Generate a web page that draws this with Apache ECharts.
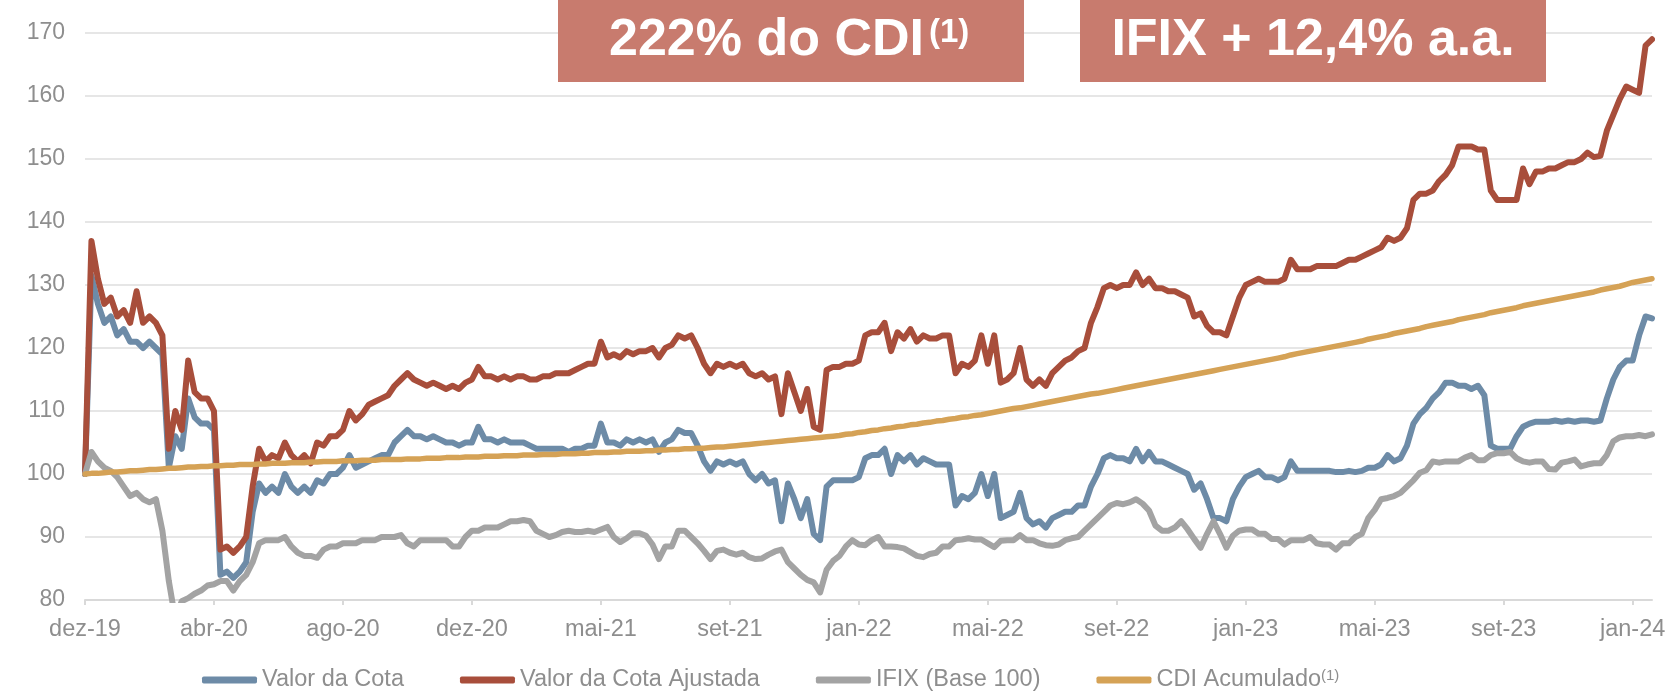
<!DOCTYPE html>
<html>
<head>
<meta charset="utf-8">
<script src="https://cdn.jsdelivr.net/npm/echarts@6/dist/echarts.min.js"></script>
<style>
    html, body { margin: 0; padding: 0; background: #fff; }
    #chart { width: 1669px; height: 691px; }
</style>
</head>
<body>
<div id="chart"></div>
<script>
// one label every POINTS_PER_TICK points (roughly weekly points)
const tickLabels = ['dez-19', 'abr-20', 'ago-20', 'dez-20', 'mai-21', 'set-21', 'jan-22',
    'mai-22', 'set-22', 'jan-23', 'mai-23', 'set-23', 'jan-24'];
const POINTS_PER_TICK = 20;

const valorCota = [
    100, 131.5, 127, 124, 125, 122, 123, 121, 121, 120, 121, 120, 119, 101, 106, 104, 112, 109, 108, 108, 107,
    84, 84.5, 83.5, 84.5, 86, 94, 98.5, 97, 98, 97, 100, 98, 97, 98, 97, 99, 98.5, 100, 100, 101,
    103, 101, 101.5, 102, 102.5, 103, 103, 105, 106, 107, 106, 106, 105.5, 106, 105.5, 105, 105, 104.5, 105, 105,
    107.5, 105.5, 105.5, 105, 105.5, 105, 105, 105, 104.5, 104, 104, 104, 104, 104, 103.5, 104, 104, 104.5, 104.5, 108,
    105, 105, 104.5, 105.5, 105, 105.5, 105, 105.5, 103.5, 105, 105.5, 107, 106.5, 106.5, 104.5, 102, 100.5, 102, 101.5, 102,
    101.5, 102, 100, 99, 100, 98.5, 99, 92.5, 98.5, 96, 93, 96, 90.5, 89.5, 98, 99, 99, 99, 99, 99.5,
    102.5, 103, 103, 104, 100, 103, 102, 103, 101.5, 102.5, 102, 101.5, 101.5, 101.5, 95, 96.5, 96, 97, 100, 96.5,
    100, 93, 93.5, 94, 97, 93, 92, 92.5, 91.5, 93, 93.5, 94, 94, 95, 95, 98, 100, 102.5, 103, 102.5,
    102.5, 102, 104, 102, 103.5, 102, 102, 101.5, 101, 100.5, 100, 97.5, 98.5, 96, 93, 93, 92.5, 96, 98, 99.5,
    100, 100.5, 99.5, 99.5, 99, 99.5, 102, 100.5, 100.5, 100.5, 100.5, 100.5, 100.5, 100.3, 100.3, 100.5, 100.3, 100.5, 101, 101,
    101.5, 103, 102, 102.5, 104.5, 108, 109.5, 110.5, 112, 113, 114.5, 114.5, 114, 114, 113.5, 114, 112.5, 104.5, 104, 104,
    104, 106, 107.5, 108, 108.3, 108.3, 108.3, 108.5, 108.3, 108.5, 108.3, 108.5, 108.5, 108.3, 108.5, 112, 115, 117, 118, 118, 122, 125, 124.7
];

const valorCotaAjustada = [
    100, 137, 131, 127, 128, 125, 126, 124, 129, 124, 125, 124, 122, 104, 110, 107, 118, 113, 112, 112, 110,
    88, 88.5, 87.5, 88.5, 90, 98, 104, 102, 103, 102.5, 105, 103, 102, 103, 101.7, 105, 104.5, 106, 106, 107,
    110, 108.5, 109.5, 111, 111.5, 112, 112.5, 114, 115, 116, 115, 114.5, 114, 114.5, 114, 113.5, 114, 113.5, 114.5, 115,
    117, 115.5, 115.5, 115, 115.5, 115, 115.5, 115.5, 115, 115, 115.5, 115.5, 116, 116, 116, 116.5, 117, 117.5, 117.5, 121,
    118.5, 119, 118.5, 119.5, 119, 119.5, 119.5, 120, 118.5, 120, 120.5, 122, 121.5, 122, 120, 117.5, 116, 117.5, 117, 117.5,
    117, 117.5, 116, 115.5, 116, 115, 115.5, 109.5, 116, 113, 110, 113.5, 107.5, 107, 116.5, 117, 117, 117.5, 117.5, 118,
    122, 122.5, 122.5, 124, 119.5, 122.5, 121.5, 123, 121, 122, 121.5, 121.5, 122, 122, 116, 117.5, 117, 118, 122, 117.5,
    122, 114.5, 115, 116, 120, 115, 114, 115, 114, 116, 117, 118, 118.5, 119.5, 120, 124, 126.5, 129.5, 130, 129.5,
    130, 130, 132, 130, 131, 129.5, 129.5, 129, 129, 128.5, 128, 125, 125.5, 123.5, 122.5, 122.5, 122, 125, 128, 130,
    130.5, 131, 130.5, 130.5, 130.5, 131, 134, 132.5, 132.5, 132.5, 133, 133, 133, 133, 133.5, 134, 134, 134.5, 135, 135.5,
    136, 137.5, 137, 137.5, 139, 143.5, 144.5, 144.5, 145, 146.5, 147.5, 149, 152, 152, 152, 151.5, 151.5, 145, 143.5, 143.5,
    143.5, 143.5, 148.5, 146, 148, 148, 148.5, 148.5, 149, 149.5, 149.5, 150, 151, 150.3, 150.5, 154.5, 157, 159.5, 161.5, 161, 160.5, 168, 169
];

const ifixBase100 = [
    100, 103.5, 102, 101, 100.5, 99.5, 98, 96.5, 97, 96, 95.5, 96, 91, 83, 77, 79.8, 80.3, 81, 81.5, 82.3, 82.5,
    83, 83, 81.5, 83, 84, 86, 89, 89.5, 89.5, 89.5, 90, 88.5, 87.5, 87, 87, 86.7, 88, 88.5, 88.5, 89,
    89, 89, 89.5, 89.5, 89.5, 90, 90, 90, 90.3, 89, 88.5, 89.5, 89.5, 89.5, 89.5, 89.5, 88.5, 88.5, 90, 91,
    91, 91.5, 91.5, 91.5, 92, 92.5, 92.5, 92.7, 92.5, 91, 90.5, 90, 90.3, 90.8, 91, 90.8, 90.8, 91, 90.8, 91.2,
    91.6, 90, 89.2, 89.8, 90.6, 90.6, 90.2, 88.8, 86.5, 88.5, 88.5, 91, 91, 90, 89, 87.8, 86.5, 87.8, 88, 87.5,
    87.2, 87.5, 86.8, 86.5, 86.6, 87.2, 87.7, 88, 86, 85, 84, 83.2, 82.8, 81.2, 84.8, 86.2, 87, 88.5, 89.5, 88.8,
    88.7, 89.5, 90, 88.5, 88.5, 88.4, 88.2, 87.6, 87, 86.8, 87.3, 87.5, 88.5, 88.5, 89.5, 89.6, 89.8, 89.6, 89.6, 89,
    88.4, 89.4, 89.5, 89.5, 90.3, 89.5, 89.5, 89, 88.7, 88.6, 88.8, 89.5, 89.8, 90, 91, 92, 93, 94, 95, 95.4,
    95.2, 95.5, 96, 95.3, 94.2, 91.8, 91, 91, 91.5, 92.5, 91.2, 89.7, 88.3, 90.5, 92.5, 90.5, 88.3, 90.2, 91, 91.2,
    91.2, 90.5, 90.5, 89.7, 89.7, 88.8, 89.5, 89.5, 89.5, 90, 89, 88.8, 88.8, 88, 89, 89, 90, 90.5, 93, 94.3,
    96, 96.2, 96.5, 97, 98, 99, 100.2, 100.6, 102, 101.8, 102, 102, 102, 102.6, 103, 102.2, 102.2, 103, 103.3, 103.3,
    103.5, 102.5, 102, 101.8, 102, 102, 100.8, 100.7, 101.8, 102, 102.3, 101.2, 101.5, 101.7, 101.7, 103, 105.2, 105.8, 106, 106, 106.2, 106, 106.3
];

const cdiAcumulado = [
    100.0, 100.1, 100.1, 100.2, 100.3, 100.3, 100.4, 100.5, 100.5, 100.6, 100.7, 100.7, 100.8, 100.9, 100.9, 101.0, 101.1, 101.1, 101.2, 101.2, 101.3,
    101.3, 101.4, 101.4, 101.5, 101.5, 101.5, 101.6, 101.6, 101.7, 101.7, 101.7, 101.8, 101.8, 101.8, 101.9, 101.9, 102.0, 102.0, 102.0, 102.1,
    102.1, 102.1, 102.2, 102.2, 102.2, 102.3, 102.3, 102.3, 102.3, 102.4, 102.4, 102.4, 102.5, 102.5, 102.5, 102.6, 102.6, 102.6, 102.7, 102.7,
    102.7, 102.8, 102.8, 102.8, 102.9, 102.9, 102.9, 103.0, 103.0, 103.0, 103.1, 103.1, 103.1, 103.2, 103.2, 103.2, 103.3, 103.3, 103.4, 103.4,
    103.4, 103.5, 103.5, 103.6, 103.6, 103.6, 103.7, 103.7, 103.8, 103.8, 103.9, 103.9, 104.0, 104.0, 104.1, 104.1, 104.2, 104.3, 104.3, 104.4,
    104.5, 104.6, 104.7, 104.8, 104.9, 105.0, 105.1, 105.2, 105.3, 105.4, 105.5, 105.6, 105.7, 105.8, 105.9, 106.0, 106.1, 106.3, 106.4, 106.6,
    106.7, 106.9, 107.0, 107.2, 107.3, 107.5, 107.6, 107.8, 107.9, 108.1, 108.2, 108.4, 108.5, 108.7, 108.8, 109.0, 109.1, 109.3, 109.4, 109.6,
    109.8, 110.0, 110.2, 110.4, 110.5, 110.7, 110.9, 111.1, 111.3, 111.5, 111.7, 111.9, 112.1, 112.3, 112.5, 112.7, 112.8, 113.0, 113.2, 113.4,
    113.6, 113.8, 114.0, 114.2, 114.4, 114.6, 114.8, 115.0, 115.2, 115.4, 115.6, 115.8, 116.0, 116.2, 116.4, 116.6, 116.8, 117.0, 117.2, 117.4,
    117.6, 117.8, 118.0, 118.2, 118.4, 118.6, 118.9, 119.1, 119.3, 119.5, 119.7, 119.9, 120.1, 120.3, 120.5, 120.7, 120.9, 121.1, 121.4, 121.6,
    121.8, 122.0, 122.3, 122.5, 122.7, 122.9, 123.1, 123.4, 123.6, 123.8, 124.0, 124.2, 124.5, 124.7, 124.9, 125.1, 125.3, 125.6, 125.8, 126.0,
    126.2, 126.4, 126.7, 126.9, 127.1, 127.3, 127.5, 127.7, 127.9, 128.1, 128.3, 128.5, 128.7, 128.9, 129.2, 129.4, 129.6, 129.8, 130.1, 130.4, 130.6, 130.8, 131.0
];

const FONT = '"Liberation Sans", Arial, sans-serif';
const LABEL_COLOR = '#8e8e8e';
const BOX_COLOR = '#c87b6e';

// nomes das categorias: só os pontos de tick recebem o rótulo do mês
const categories = valorCota.map((v, i) =>
    i % POINTS_PER_TICK === 0 ? tickLabels[i / POINTS_PER_TICK] : 'p' + i
);

function lineSeries(name, data, color, width, z) {
    return {
        name: name,
        type: 'line',
        data: data,
        z: z,
        showSymbol: false,
        symbol: 'none',
        animation: false,
        emphasis: { disabled: true },
        itemStyle: { color: color },
        lineStyle: { color: color, width: width, cap: 'round', join: 'round' },
    };
}

var chart = echarts.init(document.getElementById('chart'));

let option = {
    animation: false,
    textStyle: { fontFamily: FONT },
    grid: {
        left: 85,
        right: 17,
        top: 33,
        bottom: 91,
        containLabel: false,
        outerBoundsMode: 'none',
    },
    legend: {
        left: 197,
        top: 663,
        icon: 'roundRect',
        itemWidth: 55,
        itemHeight: 7,
        itemGap: 56,
        textStyle: {
            fontFamily: FONT,
            fontSize: 23.5,
            color: LABEL_COLOR,
            rich: {
                sup: { fontFamily: FONT, fontSize: 15, color: LABEL_COLOR, padding: [0, 0, 8, 0] },
            },
        },
        formatter: function (name) {
            return name === 'CDI Acumulado' ? name + '{sup|(1)}' : name;
        },
        data: ['Valor da Cota', 'Valor da Cota Ajustada', 'IFIX (Base 100)', 'CDI Acumulado'],
    },
    xAxis: {
        type: 'category',
        data: categories,
        boundaryGap: false,
        axisLine: { show: true, lineStyle: { color: '#d9d9d9', width: 2 } },
        axisTick: {
            show: true,
            interval: POINTS_PER_TICK - 1,
            length: 5,
            lineStyle: { color: '#d9d9d9', width: 2 },
        },
        axisLabel: {
            interval: POINTS_PER_TICK - 1,
            fontFamily: FONT,
            fontSize: 23.5,
            color: LABEL_COLOR,
            margin: 18,
        },
        splitLine: { show: false },
    },
    yAxis: {
        type: 'value',
        min: 80,
        max: 170,
        interval: 10,
        axisLine: { show: false },
        axisTick: { show: false },
        axisLabel: { fontFamily: FONT, fontSize: 23, color: LABEL_COLOR, margin: 20 },
        splitLine: { lineStyle: { color: '#e6e6e6', width: 2 } },
    },
    series: [
        lineSeries('Valor da Cota', valorCota, '#6d8ba7', 6, 2),
        lineSeries('Valor da Cota Ajustada', valorCotaAjustada, '#a84e3b', 6, 3),
        lineSeries('IFIX (Base 100)', ifixBase100, '#a3a3a3', 6, 4),
        lineSeries('CDI Acumulado', cdiAcumulado, '#d5a256', 5.5, 5),
    ],
    graphic: [
        { type: 'rect', x: 558, y: 0, z: 10, shape: { width: 466, height: 82 }, style: { fill: BOX_COLOR } },
        { type: 'rect', x: 1080, y: 0, z: 10, shape: { width: 466, height: 82 }, style: { fill: BOX_COLOR } },
        {
            type: 'text', x: 609, y: 41, z: 11,
            style: {
                text: '222% do CDI', fill: '#fff', font: 'bold 52px ' + FONT,
                align: 'left', verticalAlign: 'middle', textAlign: 'left', textVerticalAlign: 'middle',
            },
        },
        {
            type: 'text', x: 929, y: 33, z: 11,
            style: {
                text: '(1)', fill: '#fff', font: 'bold 33px ' + FONT,
                align: 'left', verticalAlign: 'middle', textAlign: 'left', textVerticalAlign: 'middle',
            },
        },
        {
            type: 'text', x: 1313, y: 41, z: 11,
            style: {
                text: 'IFIX + 12,4% a.a.', fill: '#fff', font: 'bold 52px ' + FONT,
                align: 'center', verticalAlign: 'middle', textAlign: 'center', textVerticalAlign: 'middle',
            },
        },
    ],
};

chart.setOption(option);
</script>
</body>
</html>
